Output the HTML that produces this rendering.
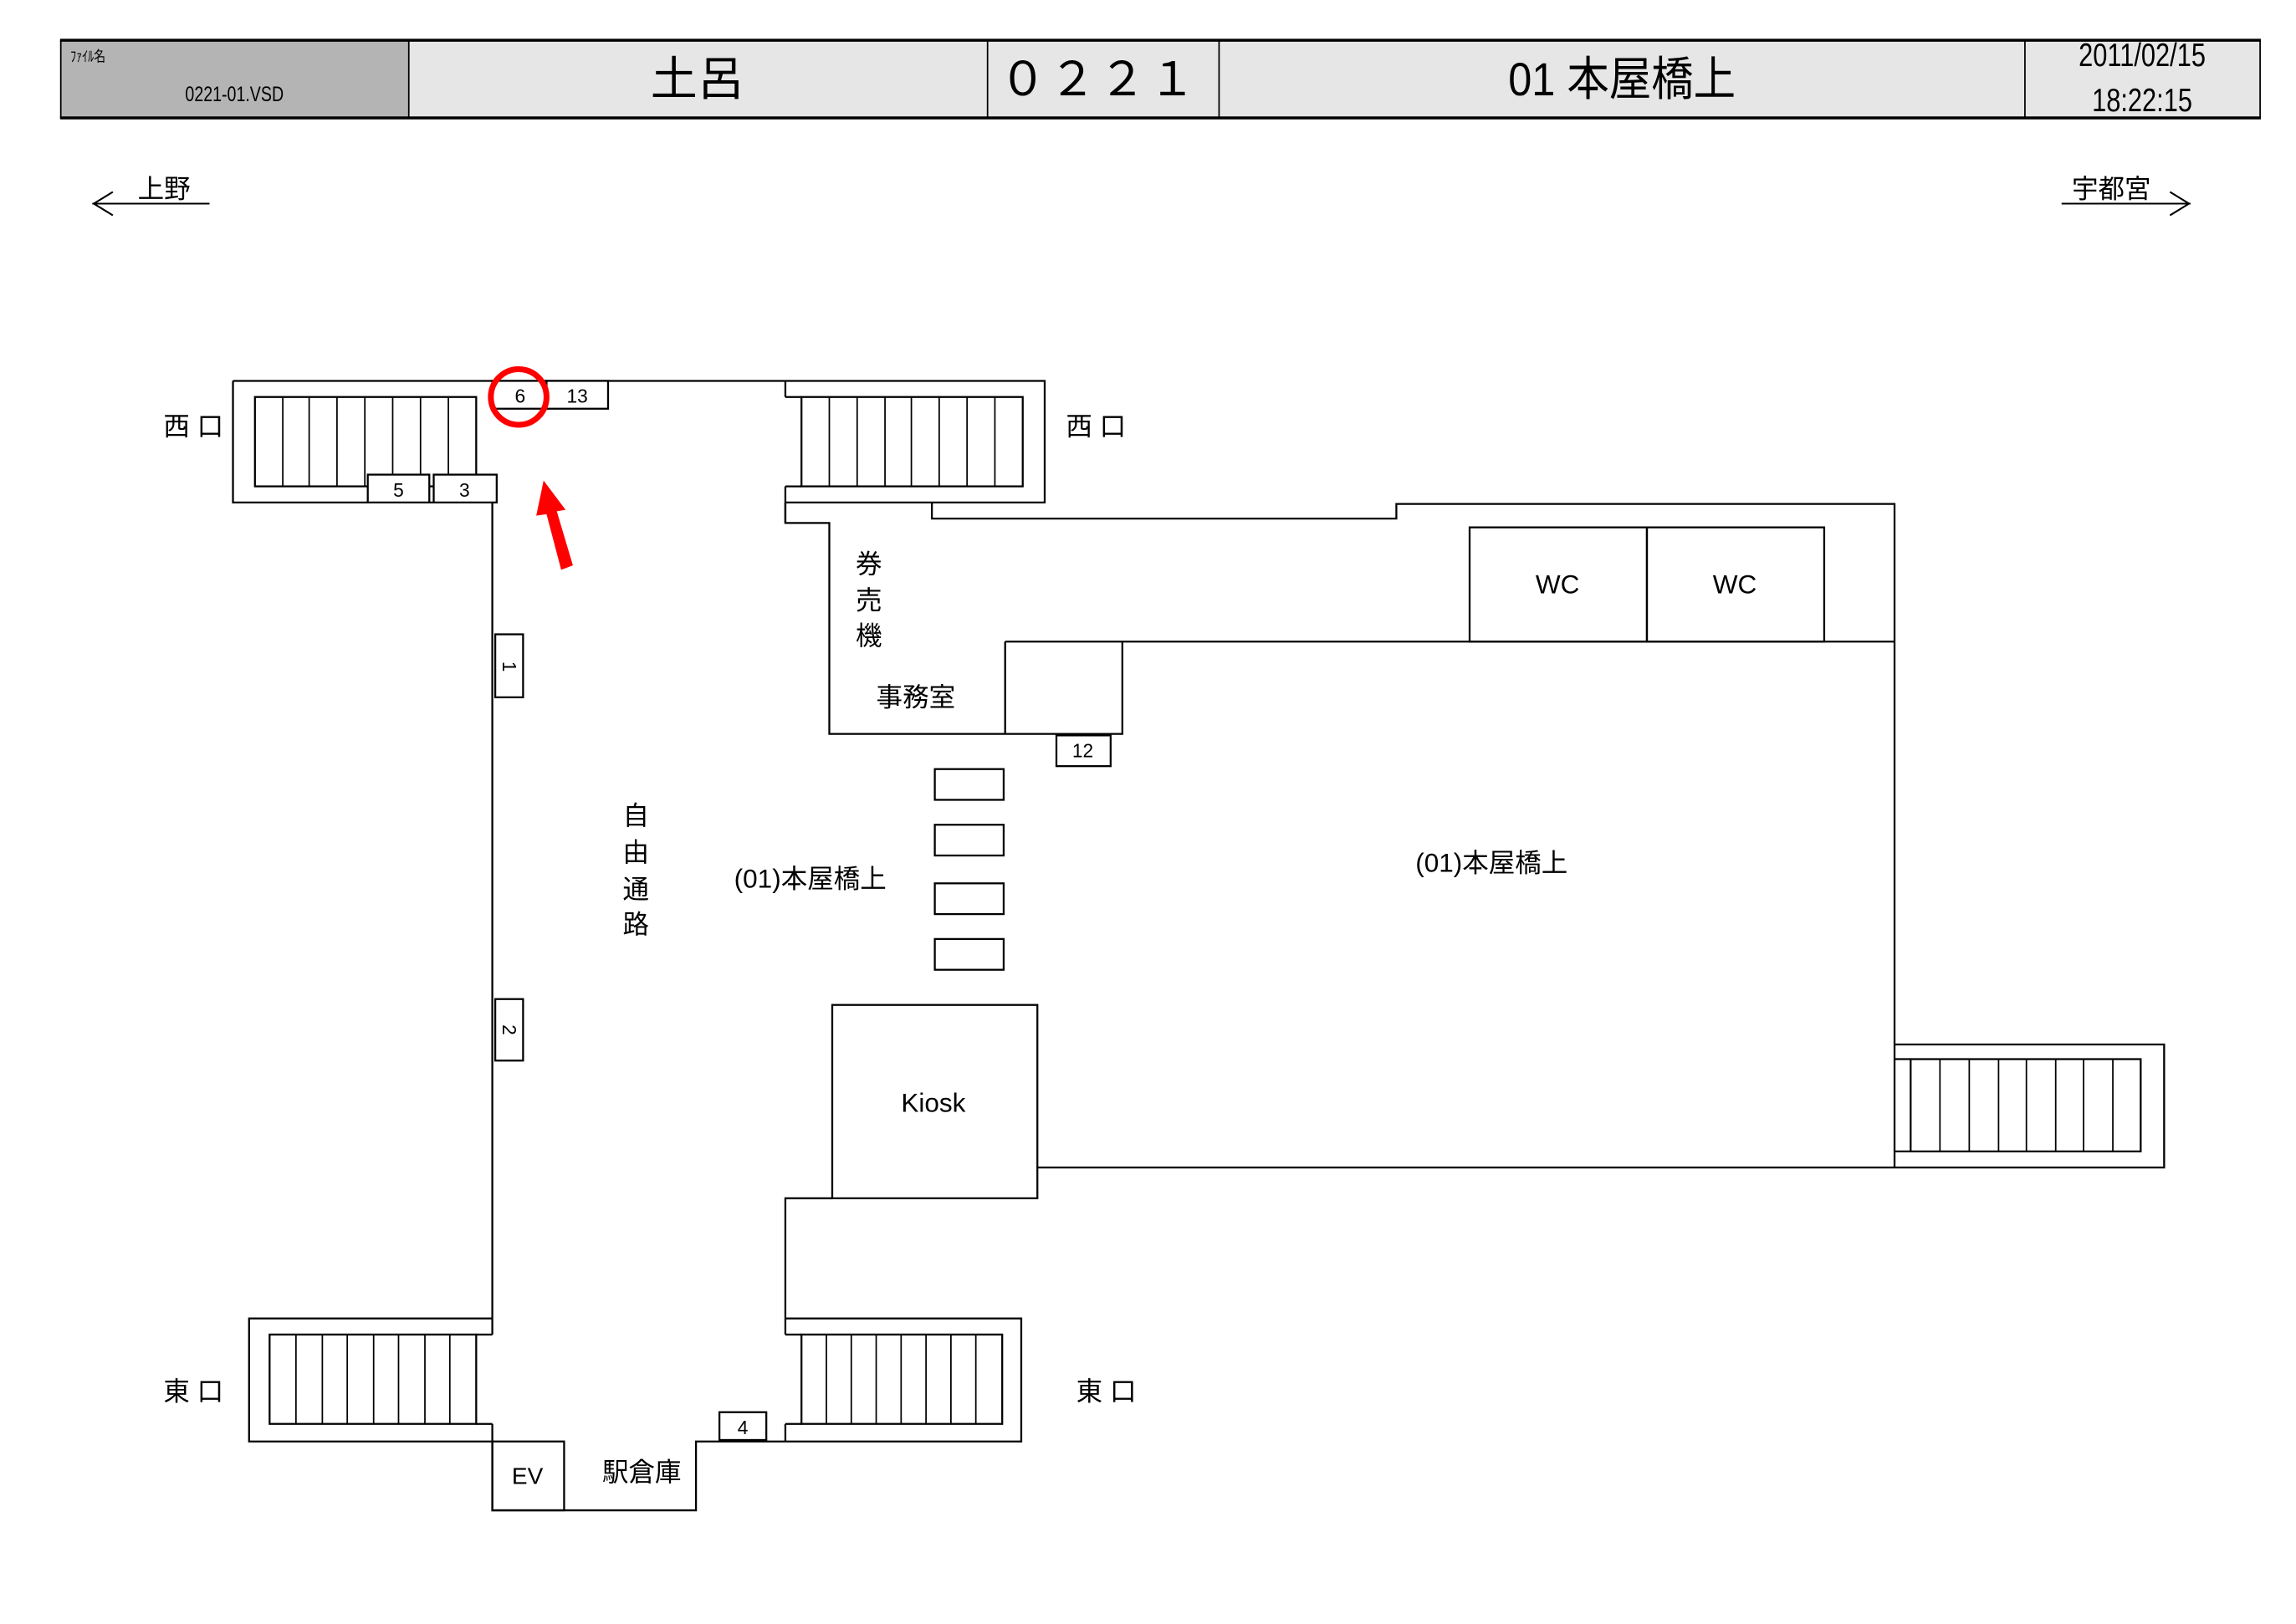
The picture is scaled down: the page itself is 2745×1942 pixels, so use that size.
<!DOCTYPE html>
<html><head><meta charset="utf-8"><style>
html,body{margin:0;padding:0;background:#fff;}
svg{display:block;}
text{font-family:"Liberation Sans","Noto Sans CJK JP",sans-serif;fill:#000;}
</style></head><body>
<svg width="2745" height="1942" viewBox="0 0 1567 1108.6" preserveAspectRatio="none" xmlns="http://www.w3.org/2000/svg">
<rect width="1567" height="1108.6" fill="#fff"/>
<!-- header -->
<rect x="41" y="27.5" width="238" height="53" fill="#b4b4b4"/>
<rect x="279" y="27.5" width="1264" height="53" fill="#e6e6e6"/>
<line x1="41" y1="27.5" x2="1543" y2="27.5" stroke="#000" stroke-width="2"/>
<line x1="41" y1="80.5" x2="1543" y2="80.5" stroke="#000" stroke-width="2"/>
<g stroke="#000" stroke-width="1">
<line x1="41.5" y1="27.5" x2="41.5" y2="80.5"/>
<line x1="279" y1="27.5" x2="279" y2="80.5"/>
<line x1="674" y1="27.5" x2="674" y2="80.5"/>
<line x1="832" y1="27.5" x2="832" y2="80.5"/>
<line x1="1382" y1="27.5" x2="1382" y2="80.5"/>
<line x1="1542.5" y1="27.5" x2="1542.5" y2="80.5"/>
</g>
<text x="48" y="42" font-size="10" transform="translate(48 0) scale(0.8 1) translate(-48 0)">ﾌｧｲﾙ名</text>
<text x="160" y="69" font-size="14" text-anchor="middle" transform="translate(160 0) scale(0.8 1) translate(-160 0)">0221-01.VSD</text>
<text x="476" y="65" font-size="32" text-anchor="middle">土呂</text>
<text x="750" y="65" font-size="32" text-anchor="middle" letter-spacing="2">０２２１</text>
<text x="1107" y="65" font-size="32" text-anchor="middle" transform="translate(1107 0) scale(0.9 1) translate(-1107 0)">01 本屋橋上</text>
<text x="1462" y="45" font-size="22" text-anchor="middle" transform="translate(1462 0) scale(0.8 1) translate(-1462 0)">2011/02/15</text>
<text x="1462" y="76" font-size="22" text-anchor="middle" transform="translate(1462 0) scale(0.8 1) translate(-1462 0)">18:22:15</text>
<!-- direction arrows -->
<g stroke="#000" stroke-width="1.2" fill="none">
<line x1="63" y1="139" x2="143" y2="139"/><polyline points="77,131 64,139 77,147"/>
<line x1="1407" y1="139" x2="1495" y2="139"/><polyline points="1481,131 1494,139 1481,147"/>
</g>
<text x="112" y="135" font-size="18" text-anchor="middle">上野</text>
<text x="1441" y="135" font-size="18" text-anchor="middle">宇都宮</text>
<!-- floor plan -->
<g stroke="#000" stroke-width="1.3" fill="none">
<line x1="159" y1="260" x2="536" y2="260"/>
<polyline points="336,343 159,343 159,260"/>
<rect x="174" y="271" width="151" height="61"/>
<polyline points="536,260 713,260 713,343 536,343"/>
<line x1="536" y1="260" x2="536" y2="271"/>
<rect x="547" y="271" width="151" height="61"/>
<line x1="536" y1="271" x2="547" y2="271"/><line x1="536" y1="332" x2="547" y2="332"/>
<line x1="536" y1="332" x2="536" y2="357"/>
<line x1="336" y1="343" x2="336" y2="900"/>
<polyline points="536,343 536,357 566,357 566,501 766,501 766,438"/>
<polyline points="636,343 636,354 953,354 953,344 1293,344 1293,713"/>
<line x1="686" y1="438" x2="1293" y2="438"/>
<line x1="686" y1="438" x2="686" y2="501"/>
<rect x="1003" y="360" width="121" height="78"/>
<rect x="1124" y="360" width="121" height="78"/>
<rect x="638" y="525" width="47" height="21"/>
<rect x="638" y="563" width="47" height="21"/>
<rect x="638" y="603" width="47" height="21"/>
<rect x="638" y="641" width="47" height="21"/>
<rect x="568" y="686" width="140" height="132"/>
<line x1="708" y1="797" x2="1293" y2="797"/>
<polyline points="1293,713 1477,713 1477,797 1293,797"/>
<rect x="1304" y="723" width="157" height="63"/>
<line x1="1293" y1="723" x2="1304" y2="723"/><line x1="1293" y1="786" x2="1304" y2="786"/>
<line x1="1293" y1="713" x2="1293" y2="797"/>
<polyline points="568,818 536,818 536,900"/>
<polyline points="336,900 170,900 170,984 336,984"/>
<line x1="336" y1="900" x2="336" y2="911"/><line x1="325" y1="911" x2="336" y2="911"/><line x1="325" y1="972" x2="336" y2="972"/><line x1="336" y1="972" x2="336" y2="984"/>
<rect x="184" y="911" width="141" height="61"/>
<polyline points="536,900 697,900 697,984 536,984"/>
<line x1="536" y1="900" x2="536" y2="911"/><line x1="536" y1="911" x2="547" y2="911"/><line x1="536" y1="972" x2="547" y2="972"/><line x1="536" y1="972" x2="536" y2="984"/>
<rect x="547" y="911" width="137" height="61"/>
<polyline points="336,984 336,1031 475,1031 475,984 536,984"/>
<rect x="336" y="984" width="49" height="47"/>
</g>
<g stroke="#000" stroke-width="1">
<line x1="193" y1="271" x2="193" y2="332"/><line x1="211" y1="271" x2="211" y2="332"/><line x1="230" y1="271" x2="230" y2="332"/><line x1="249" y1="271" x2="249" y2="332"/><line x1="268" y1="271" x2="268" y2="332"/><line x1="287" y1="271" x2="287" y2="332"/><line x1="306" y1="271" x2="306" y2="332"/>
<line x1="566" y1="271" x2="566" y2="332"/><line x1="585" y1="271" x2="585" y2="332"/><line x1="604" y1="271" x2="604" y2="332"/><line x1="622" y1="271" x2="622" y2="332"/><line x1="641" y1="271" x2="641" y2="332"/><line x1="660" y1="271" x2="660" y2="332"/><line x1="679" y1="271" x2="679" y2="332"/>
<line x1="1324" y1="723" x2="1324" y2="786"/><line x1="1344" y1="723" x2="1344" y2="786"/><line x1="1364" y1="723" x2="1364" y2="786"/><line x1="1383" y1="723" x2="1383" y2="786"/><line x1="1403" y1="723" x2="1403" y2="786"/><line x1="1422" y1="723" x2="1422" y2="786"/><line x1="1442" y1="723" x2="1442" y2="786"/>
<line x1="202" y1="911" x2="202" y2="972"/><line x1="220" y1="911" x2="220" y2="972"/><line x1="237" y1="911" x2="237" y2="972"/><line x1="255" y1="911" x2="255" y2="972"/><line x1="272" y1="911" x2="272" y2="972"/><line x1="290" y1="911" x2="290" y2="972"/><line x1="307" y1="911" x2="307" y2="972"/>
<line x1="564" y1="911" x2="564" y2="972"/><line x1="581" y1="911" x2="581" y2="972"/><line x1="598" y1="911" x2="598" y2="972"/><line x1="615" y1="911" x2="615" y2="972"/><line x1="632" y1="911" x2="632" y2="972"/><line x1="649" y1="911" x2="649" y2="972"/><line x1="666" y1="911" x2="666" y2="972"/>
</g>
<g stroke="#000" stroke-width="1.3" fill="#fff">
<rect x="336" y="260" width="37" height="19"/>
<rect x="373" y="260" width="42" height="19"/>
<rect x="251" y="324" width="42" height="19"/>
<rect x="296" y="324" width="43" height="19"/>
<rect x="338" y="433" width="19" height="43"/>
<rect x="338" y="682" width="19" height="42"/>
<rect x="721" y="502" width="37" height="21"/>
<rect x="491" y="964" width="32" height="19"/>
</g>
<g font-size="13" text-anchor="middle">
<text x="355" y="275">6</text><text x="394" y="275">13</text>
<text x="272" y="339">5</text><text x="317" y="339">3</text>
<text x="739" y="517">12</text><text x="507" y="979">4</text>
<text x="0" y="0" transform="translate(343 455) rotate(90)">1</text>
<text x="0" y="0" transform="translate(343 703) rotate(90)">2</text>
</g>
<circle cx="354" cy="271" r="19" fill="none" stroke="#ff0000" stroke-width="4"/>
<polygon points="371,328 386,348 380,349 391,386 383,389 373,351 366,352" fill="#ff0000"/>
<g font-size="18" text-anchor="middle">
<text x="132" y="297">西 口</text><text x="748" y="297">西 口</text>
<text x="132" y="956">東 口</text><text x="755" y="956">東 口</text>
<text x="593" y="391">券</text><text x="593" y="416">売</text><text x="593" y="440">機</text>
<text x="625" y="482">事務室</text>
<text x="434" y="563">自</text><text x="434" y="588">由</text><text x="434" y="613">通</text><text x="434" y="637">路</text>
<text x="553" y="606">(01)本屋橋上</text>
<text x="1018" y="595">(01)本屋橋上</text>
<text x="1063" y="405">WC</text><text x="1184" y="405">WC</text>
<text x="637" y="759">Kiosk</text>
<text x="360" y="1013" font-size="16">EV</text>
<text x="438" y="1011">駅倉庫</text>
</g>
</svg>
</body></html>
